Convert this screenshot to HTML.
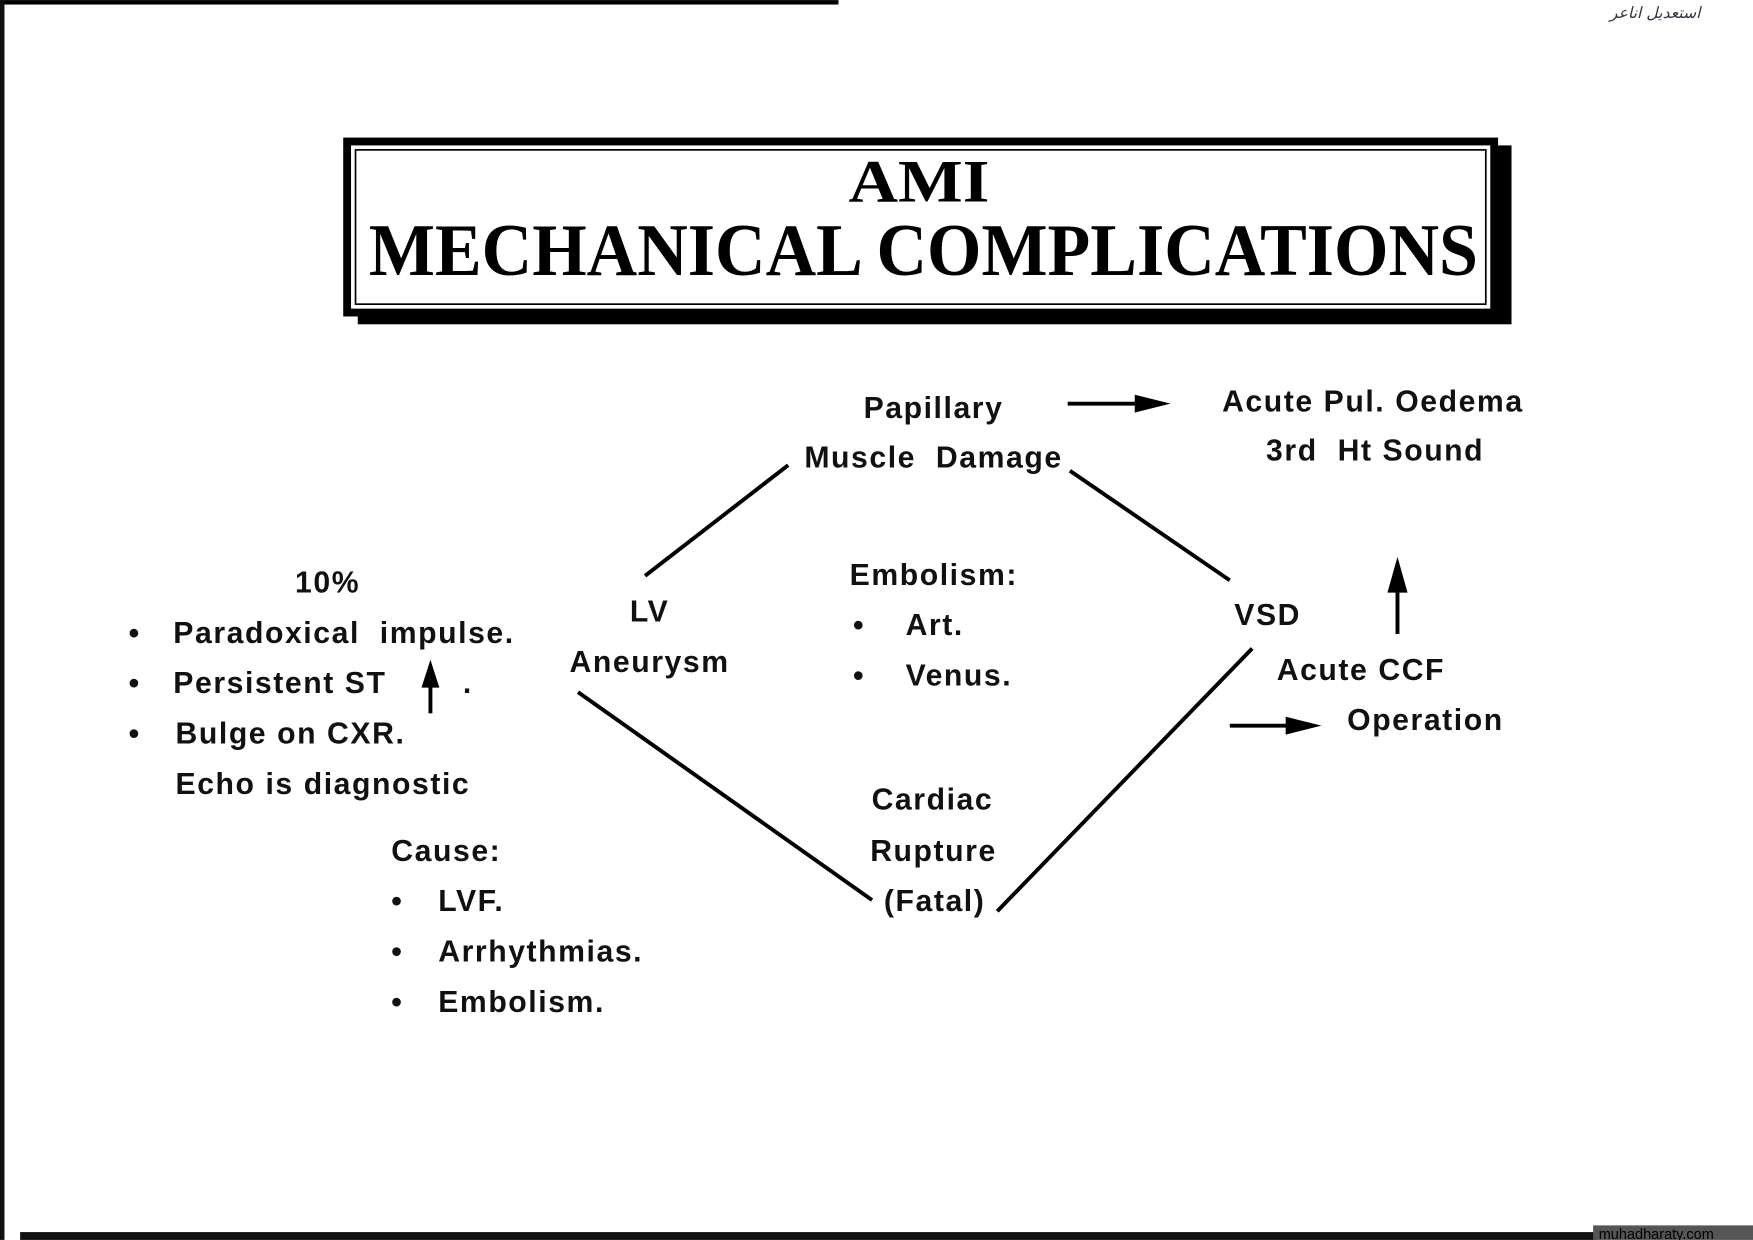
<!DOCTYPE html>
<html><head><meta charset="utf-8"><style>
html,body{margin:0;padding:0;background:#fff;}
svg{display:block;}
.t{font-family:"Liberation Sans",Arial,sans-serif;font-weight:bold;font-size:27px;fill:#111;letter-spacing:1.4px;}
.h{font-family:"Liberation Serif",serif;font-weight:bold;fill:#000;}
</style></head><body>
<svg width="1753" height="1240" viewBox="0 0 1568 1109" xmlns="http://www.w3.org/2000/svg">
<rect width="1568" height="1109" fill="#fff"/>
<rect x="0" y="0" width="750" height="4" fill="#000"/>
<rect x="0" y="0" width="4" height="1109" fill="#111"/>
<rect x="18" y="1102" width="1410" height="7" fill="#111"/>
<rect x="1425" y="1096" width="143" height="13" fill="#555"/>
<text x="1430" y="1108" font-family="Liberation Sans,sans-serif" font-size="13" fill="#000">muhadharaty.com</text>
<text x="1440" y="16" font-family="DejaVu Sans,sans-serif" font-size="14" fill="#334" font-style="italic">استعديل اناعر</text>
<rect x="320" y="130" width="1032" height="160" fill="#000"/>
<rect x="307" y="123" width="1033" height="160" fill="#000"/>
<rect x="314" y="130" width="1019" height="146" fill="#fff"/>
<rect x="318" y="134" width="1011" height="138" fill="none" stroke="#000" stroke-width="1.5"/>
<text class="h" x="822" y="180" font-size="54" text-anchor="middle" textLength="126" lengthAdjust="spacingAndGlyphs">AMI</text>
<text class="h" x="826" y="246" font-size="66" text-anchor="middle" textLength="992" lengthAdjust="spacingAndGlyphs">MECHANICAL COMPLICATIONS</text>
<g stroke="#000" stroke-width="3.5" fill="none">
<line x1="577" y1="515" x2="705" y2="416"/>
<line x1="957" y1="421" x2="1100" y2="519"/>
<line x1="517" y1="619" x2="780" y2="805"/>
<line x1="892" y1="815" x2="1120" y2="580"/>
<line x1="955" y1="361" x2="1020" y2="361"/>
<line x1="1250" y1="567" x2="1250" y2="525"/>
<line x1="1100" y1="649" x2="1155" y2="649"/>
<line x1="385" y1="638" x2="385" y2="610"/>
</g>
<g fill="#000">
<polygon points="1047,361 1015,353 1015,369"/>
<polygon points="1250,498 1241,530 1259,530"/>
<polygon points="1182,649 1150,641 1150,657"/>
<polygon points="385,590 377,615 393,615"/>
</g>
<g class="t">
<text x="835" y="374" text-anchor="middle">Papillary</text>
<text x="835" y="418" text-anchor="middle" xml:space="preserve">Muscle  Damage</text>
<text x="1228" y="368" text-anchor="middle">Acute Pul. Oedema</text>
<text x="1230" y="412" text-anchor="middle" xml:space="preserve">3rd  Ht Sound</text>
<text x="293" y="530" text-anchor="middle">10%</text>
<text x="115" y="575">•</text><text x="155" y="575" xml:space="preserve">Paradoxical  impulse.</text>
<text x="115" y="620">•</text><text x="155" y="620">Persistent ST</text><text x="414" y="620">.</text>
<text x="115" y="665">•</text><text x="157" y="665">Bulge on CXR.</text>
<text x="157" y="710">Echo is diagnostic</text>
<text x="581" y="556" text-anchor="middle">LV</text>
<text x="581" y="601" text-anchor="middle">Aneurysm</text>
<text x="760" y="523">Embolism:</text>
<text x="763" y="568">•</text><text x="810" y="568">Art.</text>
<text x="763" y="613">•</text><text x="810" y="613">Venus.</text>
<text x="1104" y="559">VSD</text>
<text x="1142" y="608">Acute CCF</text>
<text x="1205" y="653">Operation</text>
<text x="834" y="724" text-anchor="middle">Cardiac</text>
<text x="835" y="770" text-anchor="middle">Rupture</text>
<text x="836" y="815" text-anchor="middle">(Fatal)</text>
<text x="350" y="770">Cause:</text>
<text x="350" y="815">•</text><text x="392" y="815">LVF.</text>
<text x="350" y="860">•</text><text x="392" y="860">Arrhythmias.</text>
<text x="350" y="905">•</text><text x="392" y="905">Embolism.</text>
</g>
</svg>
</body></html>
